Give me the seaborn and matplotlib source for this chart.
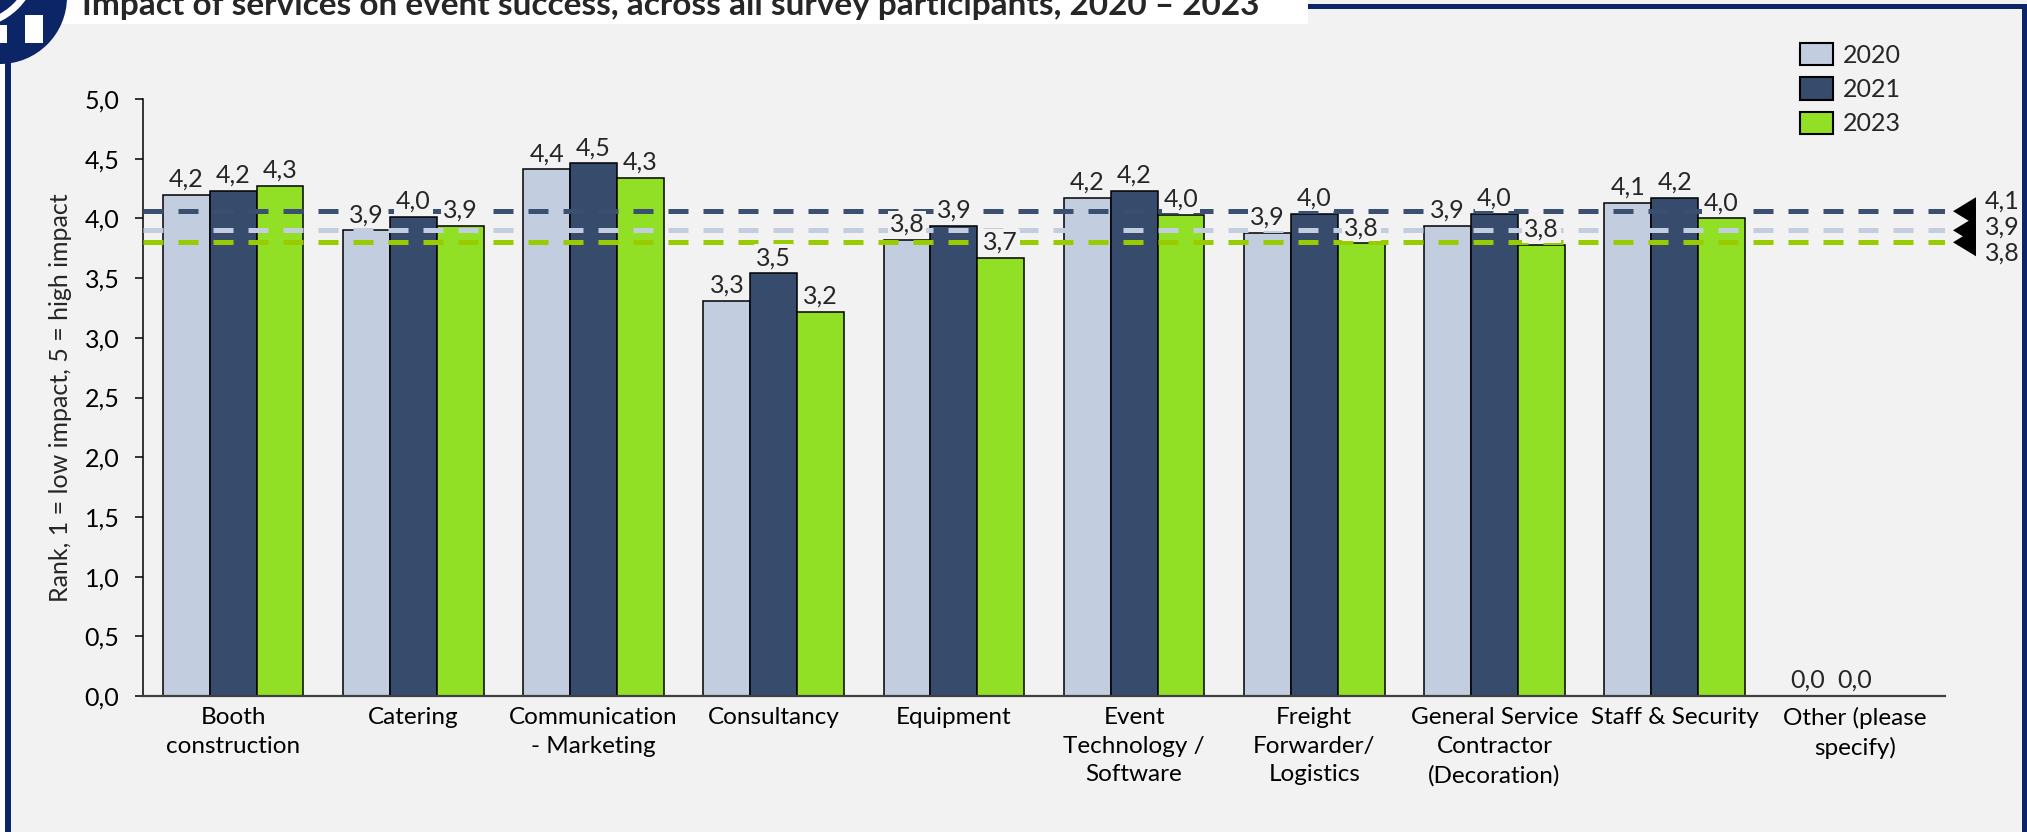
import numpy as np
import pandas as pd
import matplotlib
matplotlib.use("Agg")
import matplotlib.pyplot as plt
import seaborn as sns
from matplotlib.patches import Rectangle, Ellipse, Polygon, Arc
from matplotlib.ticker import FuncFormatter, MultipleLocator

# ---------------- data ----------------
title = "Impact of services on event success, across all survey participants, 2020 \u2013 2023"
ylabel = "Rank, 1 = low impact, 5 = high impact"
categories = [
    "Booth\nconstruction", "Catering", "Communication\n- Marketing", "Consultancy",
    "Equipment", "Event\nTechnology /\nSoftware", "Freight\nForwarder/\nLogistics",
    "General Service\nContractor\n(Decoration)", "Staff & Security", "Other (please\nspecify)",
]
years = ["2020", "2021", "2023"]
v2020 = [4.20, 3.90, 4.41, 3.31, 3.82, 4.17, 3.88, 3.94, 4.13, 0.0]
v2021 = [4.23, 4.01, 4.46, 3.54, 3.94, 4.23, 4.04, 4.04, 4.17, 0.0]
v2023 = [4.27, 3.94, 4.34, 3.22, 3.67, 4.03, 3.79, 3.78, 4.00, np.nan]
avg_values = [3.90, 4.06, 3.80]          # 2020, 2021, 2023 averages
avg_labels = ["3,9", "4,1", "3,8"]

bar_colors = ["#c3cde0", "#374c6c", "#92e026"]
line_colors = ["#c3cde0", "#3b5070", "#99cc00"]
navy = "#0b2566"
bg = "#f2f2f2"

W, H = 2027, 832
FS = 18
sns.set_style("ticks")
plt.rcParams["font.family"] = ["Lato", "DejaVu Sans"]

fig = plt.figure(figsize=(W / 100, H / 100), dpi=100, facecolor=bg)
ax_l, ax_r, ax_top, ax_bot = 143, 1945, 99, 696
ax = fig.add_axes([ax_l / W, 1 - ax_bot / H, (ax_r - ax_l) / W, (ax_bot - ax_top) / H])
ax.set_facecolor(bg)

df = pd.DataFrame({
    "category": categories * 3,
    "year": np.repeat(years, len(categories)),
    "value": v2020 + v2021 + v2023,
}).dropna()

sns.barplot(data=df, x="category", y="value", hue="year", order=categories,
            hue_order=years, palette=bar_colors, width=0.78, edgecolor="black",
            linewidth=1.1, saturation=1, errorbar=None, ax=ax)

fmt = lambda v: f"{v:.1f}".replace(".", ",")
for cont in ax.containers:
    anns = ax.bar_label(cont, fmt=fmt, padding=3, fontsize=FS)
    for a in anns:
        a.set_zorder(6)
        a.set_bbox(dict(boxstyle="square,pad=0.08", fc=bg, ec="none"))

for v, c in zip(avg_values, line_colors):
    ax.axhline(v, color=c, lw=3.6, dashes=(4, 3), zorder=4)

ax.set_xlim(-0.5, len(categories) - 0.5)
ax.set_ylim(0, 5)
ax.yaxis.set_major_locator(MultipleLocator(0.5))
ax.yaxis.set_major_formatter(FuncFormatter(lambda v, p: fmt(v)))
ax.set_xlabel("")
ax.set_ylabel(ylabel, fontsize=FS)
ax.yaxis.set_label_coords(-(ax_l - 72) / (ax_r - ax_l), 0.5)
ax.tick_params(axis="x", length=0, pad=8, labelsize=17.5, colors="black")
ax.tick_params(axis="y", length=6, width=1.1, pad=11, labelsize=FS, colors="black")
for t in ax.get_xticklabels():
    t.set_linespacing(1.45)
for s in ["top", "right"]:
    ax.spines[s].set_visible(False)
ax.spines["left"].set_linewidth(1.1)
ax.spines["left"].set_color("black")
ax.spines["bottom"].set_linewidth(1.6)
ax.spines["bottom"].set_color("#404040")

# legend
sns.move_legend(ax, "upper left", bbox_to_anchor=(1800 / W, 1 - 43 / H),
                bbox_transform=fig.transFigure, frameon=False, title=None,
                fontsize=FS, handlelength=1.32, handleheight=1.0,
                handletextpad=0.4, labelspacing=0.42, borderpad=0, borderaxespad=0)
leg = ax.get_legend()
for h in leg.legend_handles:
    h.set_edgecolor("black")
    h.set_linewidth(1.5)

# right-hand average callouts
fig.canvas.draw()
line_px = [ax.transData.transform((0, v))[1] for v in avg_values]
order = np.argsort(avg_values)[::-1]
mid = line_px[order[1]] + 3
centers = [mid + 26, mid, mid - 26]
x_tip, x_base, x_text = ax_r + 8, ax_r + 31, ax_r + 40
for k, idx in enumerate(order):
    cy = centers[k]
    ly = line_px[idx]
    tri = Polygon([(x_tip / W, ly / H), (x_base / W, (ly + 14) / H), (x_base / W, (ly - 14) / H)],
                  closed=True, fc="black", ec="none", transform=fig.transFigure)
    fig.patches.append(tri)
    fig.text(x_text / W, cy / H, avg_labels[idx], ha="left", va="center", fontsize=FS)

# frame and header decorations
def rect(x0, y0, x1, y1, color, z=1):
    fig.patches.append(Rectangle((x0 / W, 1 - y1 / H), (x1 - x0) / W, (y1 - y0) / H,
                                 fc=color, ec="none", transform=fig.transFigure, zorder=z))

rect(0, 0, 1308, 24, "white")
rect(0, 0, 5, H, "white")
rect(5, 55, 11, H, navy)
rect(1308, 4, W, 9, navy)
rect(2022, 4, W, H, navy)
fig.patches.append(Ellipse((0 / W, 1 + 3 / H), 134 / W, 134 / H, fc=navy, ec="none",
                           transform=fig.transFigure, zorder=2))
rect(25, 15, 43, 43, "white", z=3)
rect(0, 25, 7, 43, "white", z=3)
fig.patches.append(Arc((-30 / W, 1 + 40 / H), 130 / W, 130 / H, theta1=270, theta2=360,
                       color="white", lw=5, transform=fig.transFigure, zorder=3))

fig.text(82 / W, 1 - 15 / H, title, fontsize=24, fontweight="bold", ha="left", va="baseline")

fig.savefig("out.png", dpi=100, facecolor=bg)
